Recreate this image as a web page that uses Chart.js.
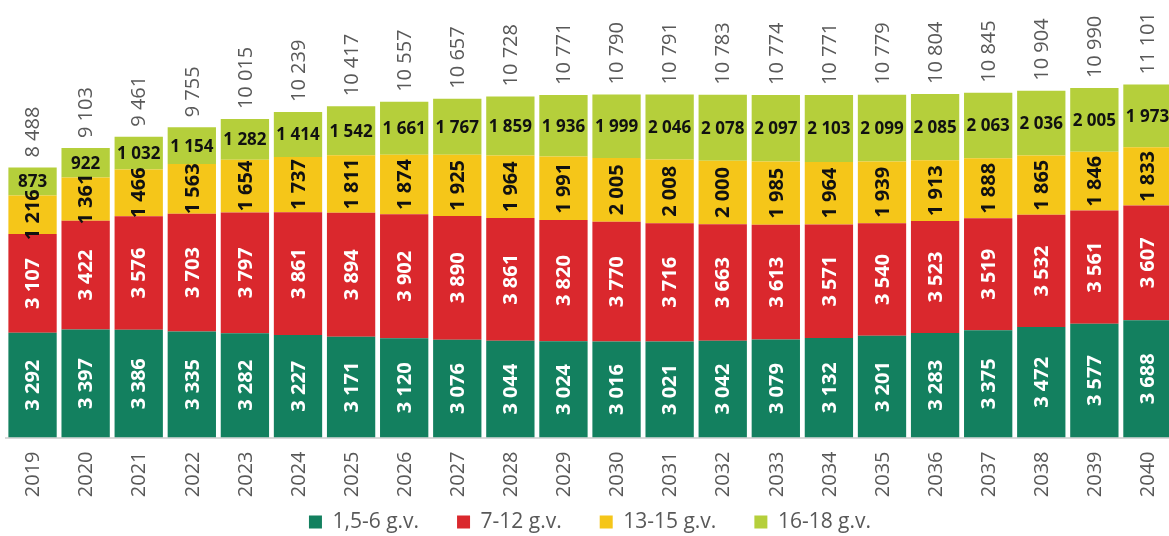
<!DOCTYPE html>
<html>
<head>
<meta charset="utf-8">
<script src="https://cdn.jsdelivr.net/npm/chart.js@4/dist/chart.umd.min.js"></script>
<style>
  html, body { margin: 0; padding: 0; background: #fff; overflow: hidden; }
  #wrap { position: absolute; left: 0; top: 0; }
</style>
</head>
<body>
<div id="wrap"><canvas id="chart" width="1175" height="536"></canvas></div>
<script>
var years = ['2019','2020','2021','2022','2023','2024','2025','2026','2027','2028','2029',
             '2030','2031','2032','2033','2034','2035','2036','2037','2038','2039','2040'];

var g1to6 = [3292,3397,3386,3335,3282,3227,3171,3120,3076,3044,3024,
             3016,3021,3042,3079,3132,3201,3283,3375,3472,3577,3688];
var g7to12 = [3107,3422,3576,3703,3797,3861,3894,3902,3890,3861,3820,
              3770,3716,3663,3613,3571,3540,3523,3519,3532,3561,3607];
var g13to15 = [1216,1361,1466,1563,1654,1737,1811,1874,1925,1964,1991,
               2005,2008,2000,1985,1964,1939,1913,1888,1865,1846,1833];
var g16to18 = [873,922,1032,1154,1282,1414,1542,1661,1767,1859,1936,
               1999,2046,2078,2097,2103,2099,2085,2063,2036,2005,1973];
var totals = [8488,9103,9461,9755,10015,10239,10417,10557,10657,10728,10771,
              10790,10791,10783,10774,10771,10779,10804,10845,10904,10990,11101];

var seriesNames = ['1,5-6 g.v.', '7-12 g.v.', '13-15 g.v.', '16-18 g.v.'];
var seriesColors = ['#13805f', '#da282d', '#f5c619', '#b5cf3b'];

var FONT = "'Open Sans', 'DejaVu Sans', sans-serif";

function fmt(n){
    return String(n).replace(/\B(?=(\d{3})+(?!\d))/g, ' ');
}

// value labels inside the segments, totals above the bars, year labels under the axis
var labelPlugin = {
    id: 'segLabels',
    afterDatasetsDraw: function(chart){
        var ctx = chart.ctx;
        ctx.save();
        chart.data.datasets.forEach(function(ds, i){
            var meta = chart.getDatasetMeta(i);
            meta.data.forEach(function(bar, j){
                var p = bar.getProps(['x','y','base'], true);
                var cy = (p.y + p.base) / 2;
                var txt = fmt(ds.data[j]);
                ctx.save();
                if (i == 3) {
                    ctx.font = 'bold 17px ' + FONT;
                    ctx.fillStyle = '#111';
                    ctx.textAlign = 'center';
                    ctx.textBaseline = 'middle';
                    ctx.fillText(txt, p.x, cy + 1);
                } else {
                    ctx.translate(p.x, cy);
                    ctx.rotate(-Math.PI / 2);
                    ctx.font = 'bold 20px ' + FONT;
                    ctx.fillStyle = i == 2 ? '#111' : '#fff';
                    ctx.textAlign = 'center';
                    ctx.textBaseline = 'middle';
                    ctx.fillText(txt, 0, 1);
                }
                ctx.restore();
            });
        });
        // totals
        var top = chart.getDatasetMeta(3);
        top.data.forEach(function(bar, j){
            ctx.save();
            ctx.translate(bar.x, bar.y - 10);
            ctx.rotate(-Math.PI / 2);
            ctx.font = '20px ' + FONT;
            ctx.fillStyle = '#595959';
            ctx.textAlign = 'left';
            ctx.textBaseline = 'middle';
            ctx.fillText(fmt(totals[j]), 0, 1);
            ctx.restore();
        });
        // year labels
        var xs = chart.scales.x;
        years.forEach(function(yr, j){
            ctx.save();
            ctx.translate(xs.getPixelForTick(j), xs.top + 14);
            ctx.rotate(-Math.PI / 2);
            ctx.font = '20px ' + FONT;
            ctx.fillStyle = '#595959';
            ctx.textAlign = 'right';
            ctx.textBaseline = 'middle';
            ctx.fillText(yr, 0, 1);
            ctx.restore();
        });
        ctx.restore();
    }
};

var datasets = [g1to6, g7to12, g13to15, g16to18].map(function(arr, i){
    return {
        label: seriesNames[i],
        data: arr,
        backgroundColor: seriesColors[i],
        borderWidth: 0,
        barPercentage: 0.91,
        categoryPercentage: 1.0
    };
});

var chart = new Chart(document.getElementById('chart').getContext('2d'), {
    type: 'bar',
    data: { labels: years, datasets: datasets },
    options: {
        responsive: false,
        animation: false,
        layout: { padding: { left: 6, right: 1, top: 0, bottom: -6.5 } },
        plugins: {
            legend: {
                position: 'bottom',
                labels: {
                    color: '#595959',
                    font: { family: FONT, size: 21 },
                    boxWidth: 13,
                    boxHeight: 13,
                    padding: 38
                }
            },
            tooltip: { enabled: false }
        },
        scales: {
            x: {
                stacked: true,
                grid: { display: false },
                border: { display: true, color: '#d9d9d9', width: 2 },
                ticks: { display: false },
                afterFit: function(s){ s.height = 36; }
            },
            y: {
                stacked: true,
                display: false,
                min: 0,
                max: 13760
            }
        }
    },
    plugins: [labelPlugin]
});
</script>
</body>
</html>
